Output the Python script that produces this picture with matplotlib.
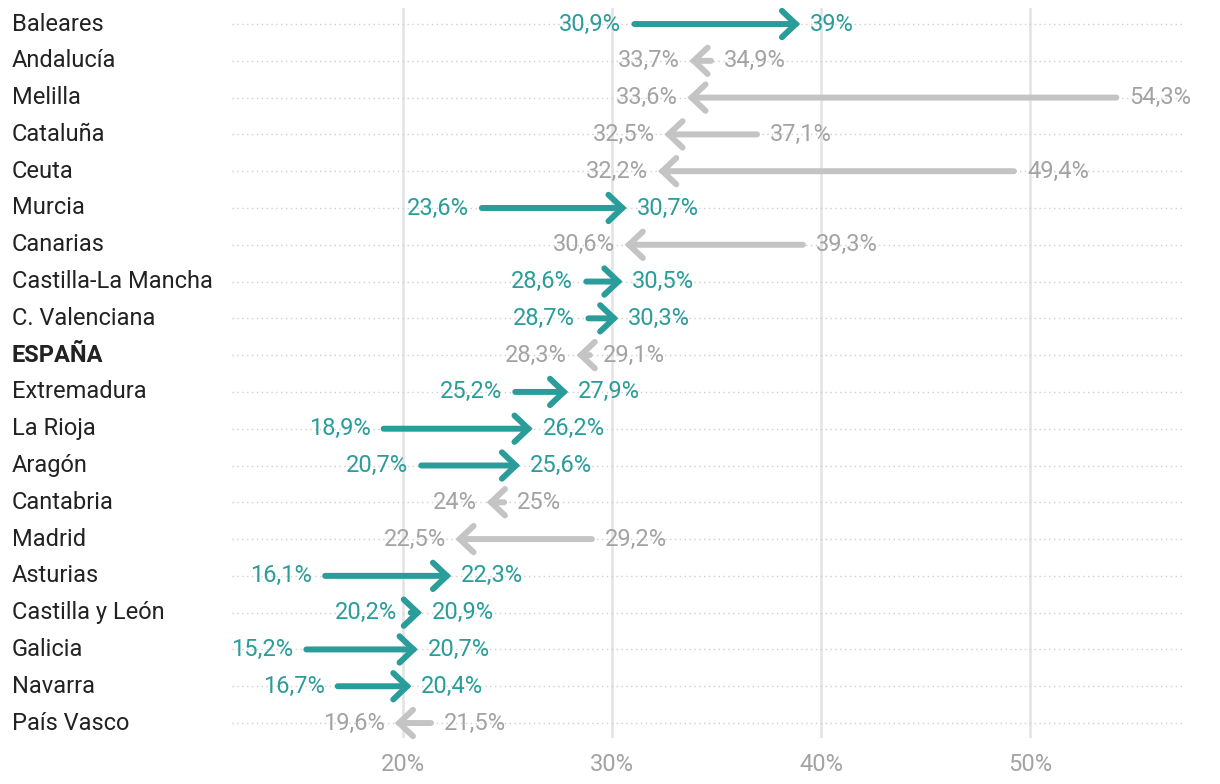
import matplotlib
matplotlib.use("Agg")
import matplotlib.pyplot as plt
from matplotlib.transforms import blended_transform_factory

plt.rcParams['font.family'] = ['Roboto', 'DejaVu Sans']

regions = ["Baleares", "Andalucía", "Melilla", "Cataluña", "Ceuta", "Murcia",
           "Canarias", "Castilla-La Mancha", "C. Valenciana", "ESPAÑA",
           "Extremadura", "La Rioja", "Aragón", "Cantabria", "Madrid",
           "Asturias", "Castilla y León", "Galicia", "Navarra", "País Vasco"]
before = [30.9, 34.9, 54.3, 37.1, 49.4, 23.6, 39.3, 28.6, 28.7, 29.1,
          25.2, 18.9, 20.7, 25.0, 29.2, 16.1, 20.2, 15.2, 16.7, 21.5]
after = [39.0, 33.7, 33.6, 32.5, 32.2, 30.7, 30.6, 30.5, 30.3, 28.3,
         27.9, 26.2, 25.6, 24.0, 22.5, 22.3, 20.9, 20.7, 20.4, 19.6]
xticks = [20, 30, 40, 50]

TEAL = "#2a9d9a"
GREY_ARROW = "#c4c4c4"
GREY_TEXT = "#a3a3a3"


def fmt(v):
    if abs(v - round(v)) < 1e-9:
        return f"{int(round(v))}%"
    return f"{v:.1f}%".replace(".", ",")


fig = plt.figure(figsize=(12.2, 7.84), dpi=100)
ax = fig.add_axes([0.19, 0.059, 0.781, 0.931])
n = len(regions)
ax.set_xlim(11.8, 57.4)
ax.set_ylim(n - 1 + 0.40, -0.44)

for s in ax.spines.values():
    s.set_visible(False)
ax.set_yticks([])
ax.set_xticks(xticks)
ax.set_xticklabels([f"{t}%" for t in xticks], fontsize=17, color=GREY_TEXT)
ax.tick_params(axis="x", length=0, pad=11)
for t in xticks:
    ax.axvline(t, color="#e3e3e3", lw=1.8, zorder=0)
for i in range(n):
    ax.axhline(i, color="#cfcfcf", lw=1, ls=(0, (1, 2.5)), zorder=0)

trans = blended_transform_factory(fig.transFigure, ax.transData)
for i, (name, b, a) in enumerate(zip(regions, before, after)):
    up = a > b
    col = TEAL if up else GREY_ARROW
    tcol = TEAL if up else GREY_TEXT
    ax.text(0.0098, i, name, transform=trans, ha="left", va="center",
            fontsize=17, color="#222222",
            fontweight="bold" if name == "ESPAÑA" else "normal")
    ax.annotate("", xy=(a, i), xytext=(b, i),
                arrowprops=dict(arrowstyle="->,head_length=1.0,head_width=0.95",
                                color=col, lw=4.3, shrinkA=2.5, shrinkB=0,
                                capstyle="round", joinstyle="miter"),
                zorder=3)
    if up:
        ax.annotate(fmt(b), (b, i), xytext=(-7, 0), textcoords="offset points",
                    ha="right", va="center", fontsize=17, color=tcol)
        ax.annotate(fmt(a), (a, i), xytext=(7, 0), textcoords="offset points",
                    ha="left", va="center", fontsize=17, color=tcol)
    else:
        ax.annotate(fmt(b), (b, i), xytext=(7, 0), textcoords="offset points",
                    ha="left", va="center", fontsize=17, color=tcol)
        ax.annotate(fmt(a), (a, i), xytext=(-7, 0), textcoords="offset points",
                    ha="right", va="center", fontsize=17, color=tcol)

fig.savefig("out.png", dpi=100)
